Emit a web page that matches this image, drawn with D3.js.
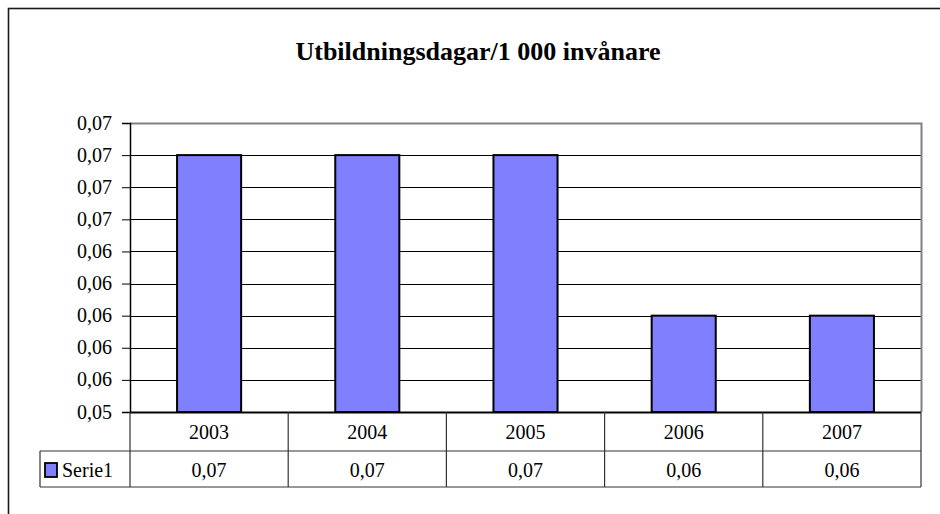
<!DOCTYPE html>
<html>
<head>
<meta charset="utf-8">
<script src="https://cdn.jsdelivr.net/npm/d3@7/dist/d3.min.js"></script>
<style>
  html, body { margin: 0; padding: 0; background: #fff; }
  svg { display: block; }
</style>
</head>
<body>
<svg id="chart" width="940" height="514"></svg>
<script>
// Chart data
const title = "Utbildningsdagar/1 000 invånare";
const years = ["2003", "2004", "2005", "2006", "2007"];
const values = [0.07, 0.07, 0.07, 0.06, 0.06];
const seriesName = "Serie1";
const yTicks = [0.054, 0.056, 0.058, 0.060, 0.062, 0.064, 0.066, 0.068, 0.070, 0.072];

const svLocale = d3.formatLocale({ decimal: ",", thousands: " ", grouping: [3], currency: ["", " kr"] });
const fmt = svLocale.format(".2f");

const serif = "'Liberation Serif', 'Times New Roman', serif";
const svg = d3.select("#chart");

// Outer chart frame
svg.append("rect")
  .attr("x", 8.5).attr("y", 8.5)
  .attr("width", 960).attr("height", 540)
  .attr("fill", "#fff").attr("stroke", "#1a1a1a").attr("stroke-width", 1.6);

const plot = { left: 130, right: 921, top: 123, bottom: 412 };
const row1Bottom = 451, row2Bottom = 487, legendLeft = 40;

const x = d3.scaleBand()
  .domain(years)
  .range([plot.left, plot.right])
  .paddingInner(0.595)
  .paddingOuter(0.2975);

const y = d3.scaleLinear()
  .domain([d3.min(yTicks), d3.max(yTicks)])
  .range([plot.bottom, plot.top]);

// Title
svg.append("text")
  .attr("x", 478).attr("y", 60)
  .attr("text-anchor", "middle")
  .style("font-family", serif)
  .style("font-size", "26px")
  .style("font-weight", "bold")
  .text(title);

// Horizontal gridlines
svg.append("g")
  .selectAll("line")
  .data(yTicks.slice(1, -1))
  .join("line")
  .attr("x1", plot.left).attr("x2", plot.right)
  .attr("y1", d => Math.round(y(d)) + 0.5)
  .attr("y2", d => Math.round(y(d)) + 0.5)
  .attr("stroke", "#000").attr("stroke-width", 1);

// Plot area frame (top/right grey)
svg.append("path")
  .attr("d", `M${plot.left},${plot.top + 0.5}H${plot.right + 0.5}V${plot.bottom}`)
  .attr("fill", "none").attr("stroke", "#808080").attr("stroke-width", 2);

// Bars
svg.append("g")
  .selectAll("rect")
  .data(years.map((yr, i) => ({ yr, v: values[i] })))
  .join("rect")
  .attr("x", d => x(d.yr))
  .attr("y", d => y(d.v))
  .attr("width", x.bandwidth())
  .attr("height", d => plot.bottom - y(d.v))
  .attr("fill", "#8080FF")
  .attr("stroke", "#000").attr("stroke-width", 2);

// Y axis
const yAxis = d3.axisLeft(y)
  .tickValues(yTicks)
  .tickFormat(fmt)
  .tickSize(8)
  .tickPadding(10);

const gy = svg.append("g")
  .attr("transform", `translate(${plot.left},0)`)
  .call(yAxis);
gy.select(".domain").attr("stroke", "#000").attr("stroke-width", 1.5);
gy.selectAll(".tick line").attr("stroke", "#000");
gy.selectAll(".tick text")
  .attr("fill", "#000")
  .attr("dy", "0.3em")
  .style("font-family", serif)
  .style("font-size", "20px");

// Base axis line
svg.append("line")
  .attr("x1", plot.left).attr("x2", plot.right)
  .attr("y1", plot.bottom + 0.5).attr("y2", plot.bottom + 0.5)
  .attr("stroke", "#000").attr("stroke-width", 2);

// Data table
const table = svg.append("g").attr("stroke", "#333").attr("stroke-width", 1.2);
const step = x.step();
const bounds = d3.range(years.length + 1).map(i => plot.left + i * step);

bounds.forEach(bx => {
  table.append("line")
    .attr("x1", bx).attr("x2", bx)
    .attr("y1", plot.bottom).attr("y2", row2Bottom);
});
table.append("line")
  .attr("x1", legendLeft).attr("x2", plot.right)
  .attr("y1", row1Bottom).attr("y2", row1Bottom);
table.append("line")
  .attr("x1", legendLeft).attr("x2", plot.right)
  .attr("y1", row2Bottom).attr("y2", row2Bottom);
table.append("line")
  .attr("x1", legendLeft).attr("x2", legendLeft)
  .attr("y1", row1Bottom).attr("y2", row2Bottom);

const cellText = svg.append("g").attr("text-anchor", "middle");
years.forEach((yr, i) => {
  const cx = x(yr) + x.bandwidth() / 2;
  cellText.append("text")
    .attr("x", cx).attr("y", (plot.bottom + row1Bottom) / 2 + 7)
    .style("font-family", serif).style("font-size", "20px")
    .text(yr);
  cellText.append("text")
    .attr("x", cx).attr("y", (row1Bottom + row2Bottom) / 2 + 8)
    .style("font-family", serif).style("font-size", "20px")
    .text(fmt(values[i]));
});

// Legend key inside the table
svg.append("rect")
  .attr("x", 45).attr("y", 463)
  .attr("width", 12).attr("height", 14)
  .attr("fill", "#8080FF").attr("stroke", "#000").attr("stroke-width", 1.8);
svg.append("text")
  .attr("x", 62).attr("y", (row1Bottom + row2Bottom) / 2 + 8)
  .style("font-family", serif).style("font-size", "20px")
  .text(seriesName);
</script>
</body>
</html>
